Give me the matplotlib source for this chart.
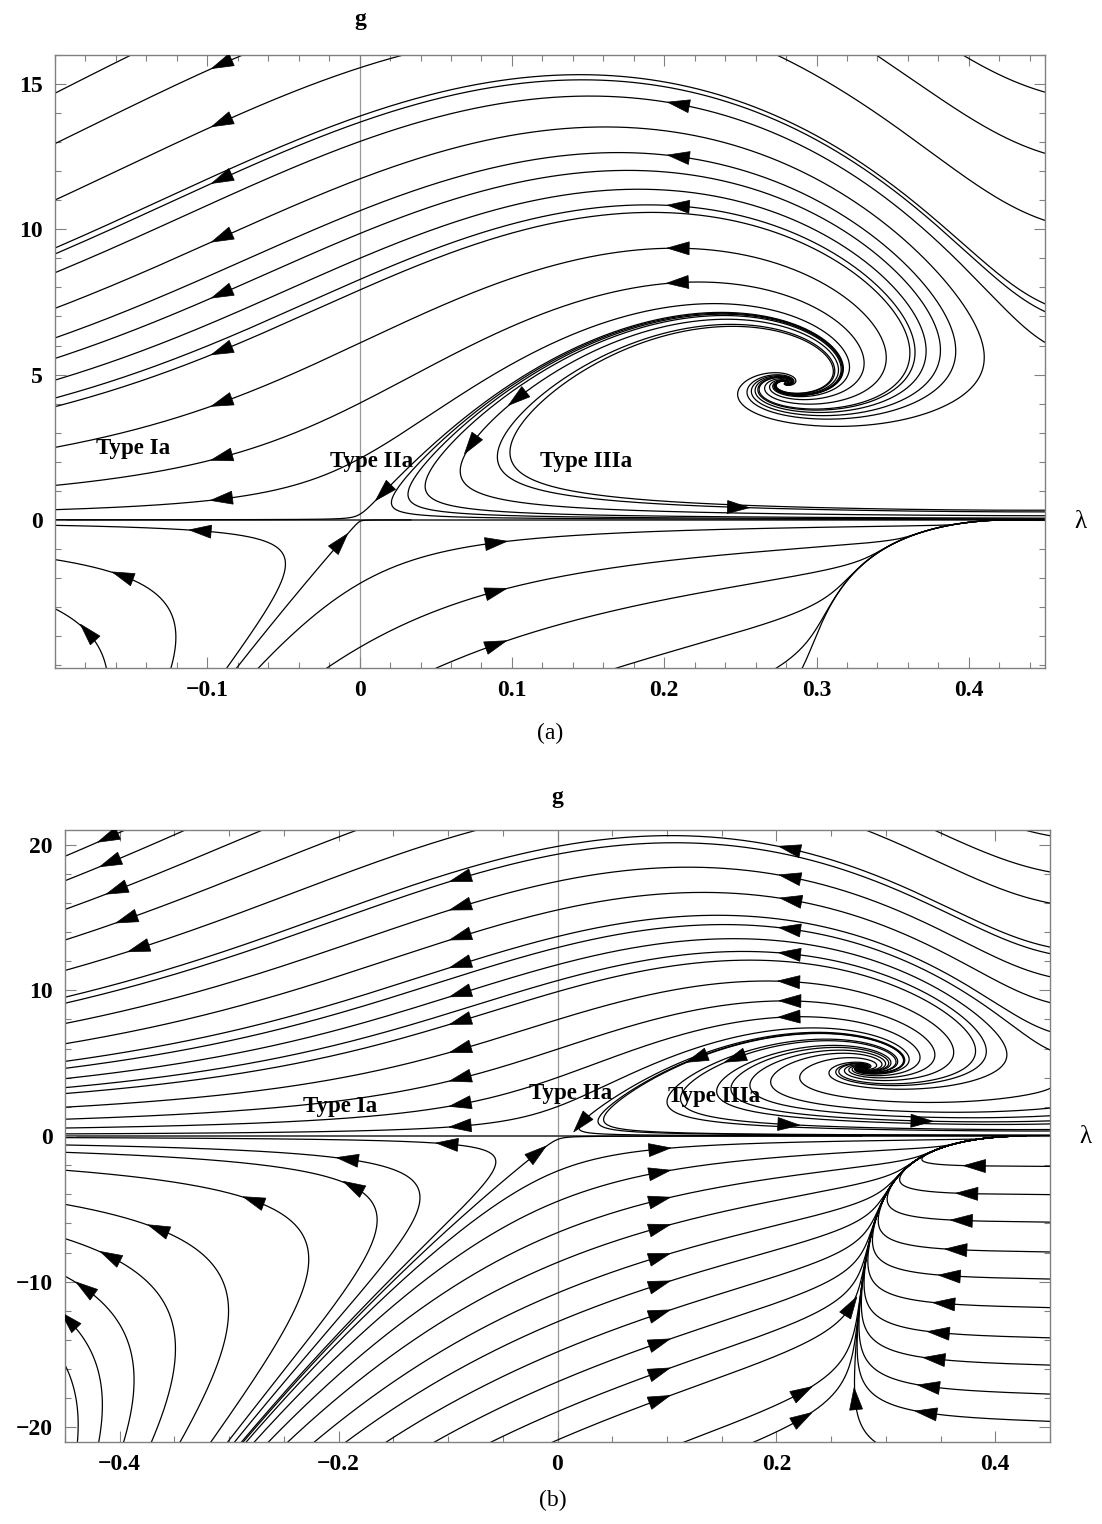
import math
import numpy as np
import matplotlib
matplotlib.use("Agg")
import matplotlib.pyplot as plt
from matplotlib.patches import Polygon
from matplotlib.ticker import MultipleLocator

plt.rcParams['font.family'] = ['Liberation Serif', 'DejaVu Serif']

# flow model: g>0 Litim-type truncation, g<0 simple flow with a pole near lambda=0.427
G_SCALE = 8.76
A5, A4, A6 = 5.635, 1.966, 3.0
B5, B7, B9 = 5.0, 0.0, 9.0
A_L, L0, LC, EPS = 0.0477, 0.255, 0.427, 0.006
ETA_L = 1.35e-3

# panel (a): seeds that carry an arrow, and plain seeds
A_ARROW_LAM = [0.104, 0.076, 0.016, 0.248] + [-0.09] * 9 + [0.21] * 5 + [
               -0.104, -0.155, -0.178, -0.013, 0.089, 0.089, 0.089]
A_ARROW_G = [4.2, 2.5, 0.96, 0.43,
             15.7, 13.7, 11.75, 9.73, 7.8, 5.84, 4.05, 2.16, 0.72,
             14.3, 12.5, 10.8, 9.2, 8.0,
             -0.38, -1.94, -3.9, -0.79, -0.79, -2.47, -4.3]
A_LINE_LAM = [-0.19, 0.0, 0.445, 0.445, 0.445, 0.445, 0.021, 0.032, 0.0435,
              0.099, 0.307, 0.253, 0.178, 0.278, 0.292]
A_LINE_G = [14.95, 9.0, 14.8, 12.7, 10.4, 7.56, 0.66, 0.78, 1.0,
            2.16, 3.09, 4.13, -4.95, -4.95, -4.95]

# panel (b)
B_ARROW_LAM = ([0.128, 0.163, 0.022, 0.21, 0.332]
               + [-0.41, -0.408, -0.402, -0.393, -0.382] + [-0.088] * 10 + [0.213] * 8
               + [-0.1, -0.191, -0.186, -0.277, -0.364, -0.408, -0.431, -0.446, -0.019]
               + [0.0925] * 10 + [0.223, 0.223, 0.270, 0.272]
               + [0.382, 0.375, 0.37, 0.365, 0.359, 0.354, 0.349, 0.345, 0.34, 0.3375])
B_ARROW_G = ([5.36, 5.36, 0.91, 1.03, 1.03]
             + [20.5, 18.8, 16.9, 14.9, 12.9]
             + [17.7, 15.75, 13.7, 11.8, 9.8, 7.9, 5.96, 3.97, 2.19, 0.68]
             + [19.7, 17.8, 15.96, 14.2, 12.5, 10.75, 9.25, 8.0]
             + [-0.55, -1.6, -3.5, -4.45, -6.4, -8.3, -10.5, -12.7, -1.2]
             + [-0.9, -2.5, -4.4, -6.3, -8.3, -10.2, -12.2, -14.2, -16.2, -18.1]
             + [-17.6, -19.4, -11.8, -18.1]
             + [-2.05, -3.95, -5.8, -7.8, -9.6, -11.5, -13.5, -15.3, -17.2, -19.0])
B_LINE_LAM = [0.037, 0.102, 0.148, 0.18, 0.448, 0.448, 0.448, 0.448, 0.448,
              0.285, 0.347, 0.432, -0.44, -0.305, -0.292]
B_LINE_G = [1.0, 1.95, 2.6, 2.9, 0.34, 0.68, 1.16, 1.9, 3.2,
            20.9, 20.9, 20.9, -18.0, -20.9, -20.9]

A_LABELS = [("Type Ia", -0.149, 2.47), ("Type IIa", 0.008, 2.0), ("Type IIIa", 0.149, 2.0)]
B_LABELS = [("Type Ia", -0.199, 2.05), ("Type IIa", 0.012, 2.9), ("Type IIIa", 0.143, 2.7)]


def upper_field(l, g):
    h = g / G_SCALE
    u = 1.0 - 2.0 * l
    eta = h * (B5 / u - B9 / u ** 2 - B7) / (3 * math.pi)
    bg = (2 + eta) * g
    bl = -(2 - eta) * l + h / (2 * math.pi) * (A5 / u - A4 - A6 * eta / (6 * u))
    return bl, bg


def lower_field(l, g):
    q = (LC - l) ** 2 + EPS ** 2
    a = A_L * (L0 - l) / q
    eta = -g * ETA_L / q
    return -2 * l + g * a, (2 + eta) * g


def field(l, g):
    return upper_field(l, g) if g > 0 else lower_field(l, g)


def find_ngfp():
    x, y = 0.28, 4.7
    for _ in range(40):
        f0 = upper_field(x, y)
        e = 1e-6
        fx = upper_field(x + e, y)
        fy = upper_field(x, y + e)
        j11, j21 = (fx[0] - f0[0]) / e, (fx[1] - f0[1]) / e
        j12, j22 = (fy[0] - f0[0]) / e, (fy[1] - f0[1]) / e
        det = j11 * j22 - j12 * j21
        x -= (j22 * f0[0] - j12 * f0[1]) / det
        y -= (-j21 * f0[0] + j11 * f0[1]) / det
    return x, y


NG = find_ngfp()


def trace(l0, g0, dirn, xlim, ylim, sx, sy, step=1.4, nmax=6000):
    def vel(l, g):
        if l > 0.49:
            return None
        bl, bg = field(l, g)
        vx, vy = -bl * sx, -bg * sy
        n = math.hypot(vx, vy)
        if n == 0 or not math.isfinite(n):
            return None
        return dirn * vx / n / sx, dirn * vy / n / sy

    pts = [(l0, g0)]
    l, g = l0, g0
    mx, my = 3 / sx, 3 / sy
    for _ in range(nmax):
        k1 = vel(l, g)
        if k1 is None:
            break
        k2 = vel(l + 0.5 * step * k1[0], g + 0.5 * step * k1[1])
        if k2 is None:
            break
        k3 = vel(l + 0.5 * step * k2[0], g + 0.5 * step * k2[1])
        if k3 is None:
            break
        k4 = vel(l + step * k3[0], g + step * k3[1])
        if k4 is None:
            break
        l += step * (k1[0] + 2 * k2[0] + 2 * k3[0] + k4[0]) / 6
        g += step * (k1[1] + 2 * k2[1] + 2 * k3[1] + k4[1]) / 6
        if g * g0 <= 0:
            break
        pts.append((l, g))
        if l < xlim[0] - mx or l > xlim[1] + mx or g < ylim[0] - my or g > ylim[1] + my:
            break
        if math.hypot((l - NG[0]) * sx, (g - NG[1]) * sy) < 0.8:
            break
        if abs(g) * sy < 0.05:
            break
    return pts


def draw_arrow(ax, l0, g0, sx, sy):
    bl, bg = field(l0, g0)
    vx, vy = -bl * sx, -bg * sy
    n = math.hypot(vx, vy)
    ux, uy = vx / n, vy / n
    L, w = 22.0, 6.5
    tip = (l0 + 0.55 * L * ux / sx, g0 + 0.55 * L * uy / sy)
    bx, by = -0.45 * L * ux, -0.45 * L * uy
    b1 = (l0 + (bx - w * uy) / sx, g0 + (by + w * ux) / sy)
    b2 = (l0 + (bx + w * uy) / sx, g0 + (by - w * ux) / sy)
    ax.add_patch(Polygon([tip, b1, b2], closed=True, facecolor='black',
                         edgecolor='black', lw=0.5, zorder=4))


def draw_panel(ax, box, xlim, ylim, arrows, lines, labels,
               xt, xtl, xminor, yt, ytl, yminor):
    sx = box[2] / (xlim[1] - xlim[0])
    sy = box[3] / (ylim[1] - ylim[0])
    ax.set_xlim(*xlim)
    ax.set_ylim(*ylim)
    ax.axvline(0, color='#999999', lw=0.9, zorder=1)
    ax.axhline(0, color='#444444', lw=1.3, zorder=1)

    kept = []   # traced lines, data coords
    seeds = [(l, g, True) for l, g in zip(*arrows)] + [(l, g, False) for l, g in zip(*lines)]
    for l0, g0, arr in seeds:
        if kept:
            allp = np.vstack(kept)
            dist = np.hypot((allp[:, 0] - l0) * sx, (allp[:, 1] - g0) * sy)
            k = int(np.argmin(dist))
            if dist[k] < 5.0 and allp[k, 1] * g0 > 0:
                # seed sits on a line already drawn: reuse it
                if arr:
                    draw_arrow(ax, allp[k, 0], allp[k, 1], sx, sy)
                continue
        uv = trace(l0, g0, -1, xlim, ylim, sx, sy)
        ir = trace(l0, g0, 1, xlim, ylim, sx, sy)
        pts = np.array(uv[::-1] + ir[1:])
        kept.append(pts)
        ax.plot(pts[:, 0], pts[:, 1], color='black', lw=0.9, zorder=2,
                solid_capstyle='butt')
        if arr:
            draw_arrow(ax, l0, g0, sx, sy)

    for txt, l, g in labels:
        ax.text(l, g, txt, ha='center', va='center', fontsize=16.5,
                fontweight='bold', zorder=5)
    ax.set_xticks(xt)
    ax.set_xticklabels(xtl, fontsize=17, fontweight='bold')
    ax.set_yticks(yt)
    ax.set_yticklabels(ytl, fontsize=17, fontweight='bold')
    ax.xaxis.set_minor_locator(MultipleLocator(xminor))
    ax.yaxis.set_minor_locator(MultipleLocator(yminor))
    ax.tick_params(which='both', direction='in', top=True, right=True,
                   color='#808080', width=0.8)
    ax.tick_params(which='major', length=8, pad=9)
    ax.tick_params(which='minor', length=4)
    for sp in ax.spines.values():
        sp.set_color('#808080')
        sp.set_linewidth(1.0)


W, H = 1102, 1524
fig = plt.figure(figsize=(W / 100, H / 100), dpi=100)

box_a = (55, 55, 990, 613)
ax_a = fig.add_axes([box_a[0] / W, 1 - (box_a[1] + box_a[3]) / H, box_a[2] / W, box_a[3] / H])
draw_panel(ax_a, box_a, (-0.2, 0.45), (-5.1, 16.0),
           (A_ARROW_LAM, A_ARROW_G), (A_LINE_LAM, A_LINE_G), A_LABELS,
           [-0.1, 0, 0.1, 0.2, 0.3, 0.4], ['\u22120.1', '0', '0.1', '0.2', '0.3', '0.4'], 0.02,
           [0, 5, 10, 15], ['0', '5', '10', '15'], 1)

box_b = (65, 830, 985, 612)
ax_b = fig.add_axes([box_b[0] / W, 1 - (box_b[1] + box_b[3]) / H, box_b[2] / W, box_b[3] / H])
draw_panel(ax_b, box_b, (-0.45, 0.45), (-21.0, 21.0),
           (B_ARROW_LAM, B_ARROW_G), (B_LINE_LAM, B_LINE_G), B_LABELS,
           [-0.4, -0.2, 0, 0.2, 0.4], ['\u22120.4', '\u22120.2', '0', '0.2', '0.4'], 0.05,
           [-20, -10, 0, 10, 20], ['\u221220', '\u221210', '0', '10', '20'], 2)

fig.text(360 / W, 1 - 20 / H, 'g', ha='center', va='center', fontsize=17, fontweight='bold')
fig.text(557 / W, 1 - 797 / H, 'g', ha='center', va='center', fontsize=17, fontweight='bold')
fig.text(1080 / W, 1 - 522 / H, '\u03bb', ha='center', va='center', fontsize=18)
fig.text(1085 / W, 1 - 1137 / H, '\u03bb', ha='center', va='center', fontsize=18)
fig.text(550 / W, 1 - 733 / H, '(a)', ha='center', va='center', fontsize=17)
fig.text(553 / W, 1 - 1500 / H, '(b)', ha='center', va='center', fontsize=17)

fig.savefig('out.png', dpi=100)
